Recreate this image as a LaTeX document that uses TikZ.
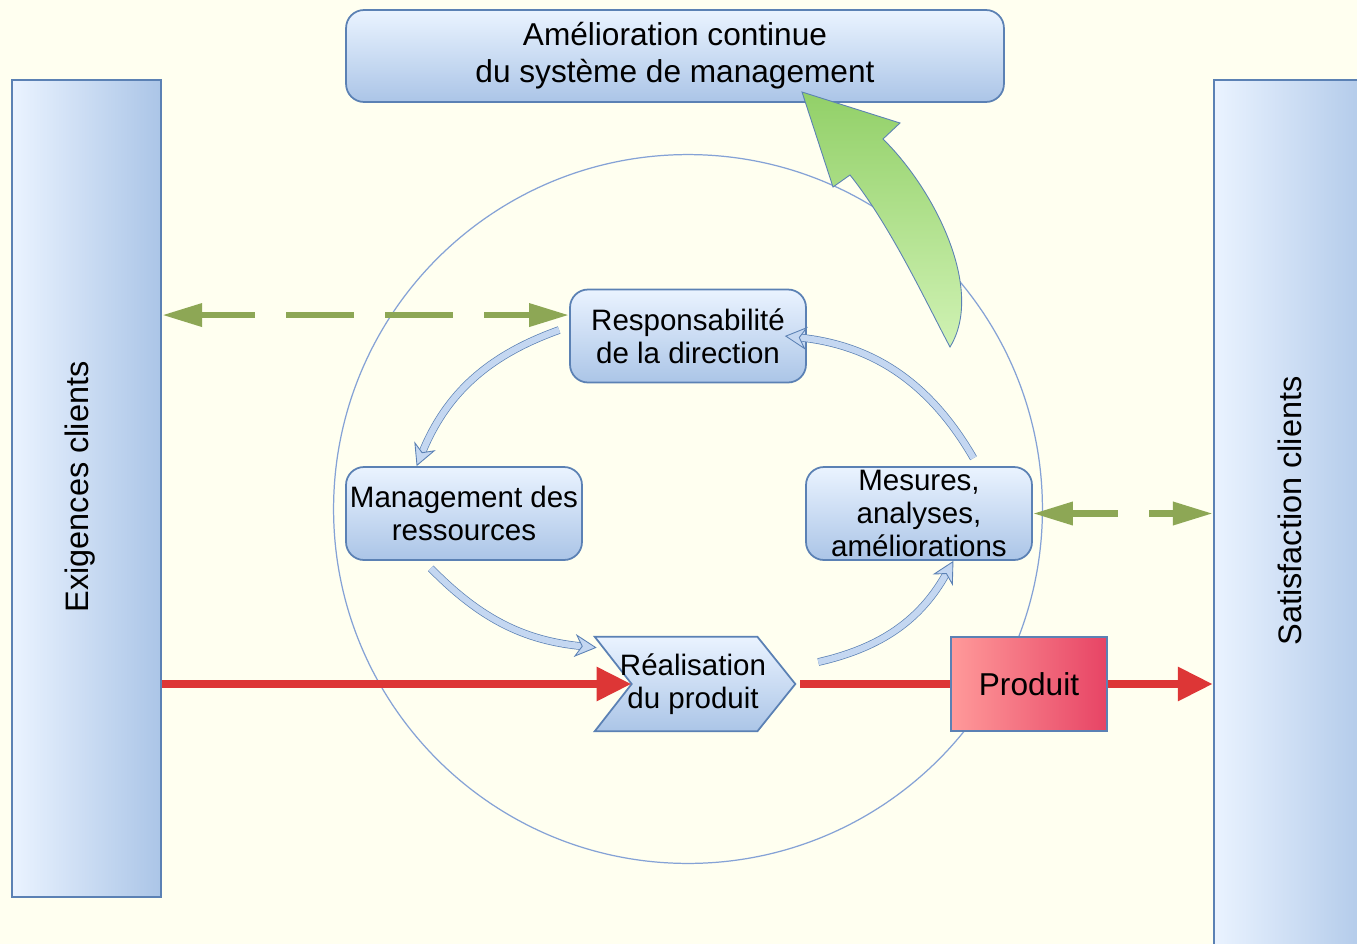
\documentclass[tikz,border=0pt]{standalone}
\usepackage{fontspec}
\setmainfont{Liberation Sans}
\usetikzlibrary{arrows.meta}
\definecolor{bgcolor}{HTML}{FFFFF0}
\definecolor{edgeblue}{HTML}{5B81B4}
\definecolor{lightblue}{HTML}{EAF3FF}
\definecolor{midblue}{HTML}{ABC5E7}
\definecolor{ringblue}{HTML}{85A2D6}
\definecolor{flowfill}{HTML}{C4D7F1}
\definecolor{redline}{HTML}{DD3636}
\definecolor{olivegreen}{HTML}{8DA755}
\definecolor{greentop}{HTML}{92D068}
\definecolor{greenmid}{HTML}{8DE08A}
\definecolor{greenbottom}{HTML}{D0F2B4}
\definecolor{prodleft}{HTML}{FF9A9A}
\definecolor{prodright}{HTML}{E74465}

\tikzset{
  sidebar/.style={draw=edgeblue, line width=1.2pt, left color=lightblue, right color=midblue, inner sep=0},
  bartext/.style={rotate=90, font=\fontsize{18.5}{22}\selectfont},
  boxtext/.style={align=center, font=\fontsize{16.8}{19}\selectfont},
  cyclebox/.style={boxtext, draw=edgeblue, line width=1pt, rounded corners=0.36cm, top color=lightblue, bottom color=midblue, minimum width=4.72cm, minimum height=1.86cm, inner sep=0},
  flowarrow/.style={draw=edgeblue, line width=0.4pt, double=flowfill, double distance=3.6pt, -{Stealth[length=0.44cm,width=0.46cm,inset=0.14cm,fill=flowfill,color=edgeblue,line width=0.5pt]}},
  productline/.style={redline, line width=0.17cm},
  productarrow/.style={productline, -{Triangle[length=0.7cm,width=0.64cm]}},
  dualarrow/.style={olivegreen, line width=0.13cm, dash pattern=on 1.36cm off 0.62cm, dash phase=0.42cm, {Triangle[length=0.8cm,width=0.44cm]}-{Triangle[length=0.8cm,width=0.44cm]}}
}

\begin{document}
\begin{tikzpicture}[x=0.02cm, y=-0.02cm]
\clip (0,0) rectangle (1357,944);
\fill[bgcolor] (0,0) rectangle (1357,944);

% client sides
\node[sidebar, minimum width=2.98cm, minimum height=16.34cm] (exig) at (86.5,488.5) {};
\node[bartext] at (80,487) {Exigences clients};
\node[sidebar, minimum width=3.4cm, minimum height=17.8cm] (sat) at (1299,525) {};
\node[bartext] at (1290,511) {Satisfaction clients};

\node[circle, draw=ringblue, line width=0.7pt, minimum size=14.18cm, inner sep=0] (ring) at (688,509) {};

\node[cyclebox, minimum width=13.16cm, minimum height=1.84cm, font=\fontsize{18}{21}\selectfont] (amelio) at (675,56) {Amélioration continue\\du système de management};

% process boxes
\node[cyclebox] (resp) at (688,336) {Responsabilité\\de la direction};
\node[cyclebox] (mgmt) at (464,513.5) {Management des\\ressources};
\node[cyclebox, minimum width=4.52cm] (mes) at (919,513.5) {};
\node[boxtext] at (mes) {Mesures,\\analyses,\\améliorations};

\path (695,684) node[minimum width=4cm, minimum height=1.88cm, inner sep=0] (real) {};
\shade[draw=edgeblue, line width=1pt, top color=lightblue, bottom color=midblue] (real.north west) -- ([xshift=-0.76cm]real.north east) -- (real.east) -- ([xshift=-0.76cm]real.south east) -- (real.south west) -- ([xshift=0.74cm]real.west) -- cycle;
\node[boxtext] at ([xshift=-0.04cm]real) {Réalisation\\du produit};

\draw[flowarrow] ([shift={(-0.2cm,0.12cm)}]resp.west) to[bend right=24] (mgmt.135);
\draw[flowarrow] ([yshift=-0.15cm]mgmt.-125) to[bend right=20] ([shift={(0.04cm,-0.22cm)}]real.north west);
\draw[flowarrow] ([shift={(0.46cm,0.44cm)}]real.east) to[bend right=24] (mes.-54);
\draw[flowarrow] ([yshift=0.16cm]mes.41) to[bend right=27] ([xshift=-0.44cm]resp.east);

% improvement arrow
\shade[draw=edgeblue, line width=0.5pt, top color=greentop, middle color=greenmid, bottom color=greenbottom]
  (802,92) -- (900,123) -- (883,139) .. controls (935,190) and (985,290) .. (950,347)
  .. controls (925,300) and (890,225) .. (850,175) -- (833,187) -- cycle;

% product flow
\node[draw=edgeblue, line width=1pt, left color=prodleft, right color=prodright, minimum width=3.12cm, minimum height=1.88cm, font=\fontsize{18}{21}\selectfont] (prod) at (1029,684) {Produit};
\draw[productarrow] (exig.east |- real.west) -- ([xshift=0.74cm]real.west);
\draw[productline] ([xshift=0.1cm]real.east) -- (prod.west);
\draw[productarrow] (prod.east) -- (prod.east -| sat.west);

\draw[dualarrow] (resp.170) -- (resp.170 -| exig.east);
\draw[dualarrow] (mes.east) -- (mes.east -| sat.west);
\end{tikzpicture}
\end{document}
